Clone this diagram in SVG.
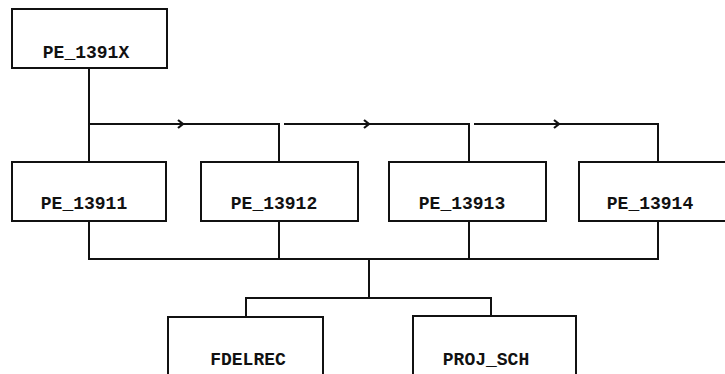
<svg xmlns="http://www.w3.org/2000/svg" width="725" height="374" viewBox="0 0 725 374">
<style>
.box{fill:#fff;stroke:#111;stroke-width:2}
.lbl{font-family:"Liberation Mono","DejaVu Sans Mono",monospace;font-weight:bold;font-size:18px;fill:#111;text-anchor:middle}
.ln{fill:none;stroke:#111;stroke-width:2}
.chev{fill:none;stroke:#111;stroke-width:2.2}
</style>
<rect width="725" height="374" fill="#fff"/>
<g id="connectors">
<path class="ln" d="M89,68 V162"/>
<path class="ln" d="M89,124 H279 V162"/>
<path class="ln" d="M284,124 H469 V162"/>
<path class="ln" d="M474,124 H658 V162"/>
<path class="chev" d="M178,120 L183,124 L178,128"/>
<path class="chev" d="M364,120 L369,124 L364,128"/>
<path class="chev" d="M554,120 L559,124 L554,128"/>
<path class="ln" d="M89,221 V259 H658 V221"/>
<path class="ln" d="M279,221 V259"/>
<path class="ln" d="M469,221 V259"/>
<path class="ln" d="M369,259 V298"/>
<path class="ln" d="M246,317 V298 H491 V316"/>
</g>
<g id="PE_1391X"><rect class="box" x="12" y="9" width="155" height="59"/><text class="lbl" x="86" y="58">PE_1391X</text></g>
<g id="PE_13911"><rect class="box" x="12" y="162" width="154" height="59"/><text class="lbl" x="84" y="209">PE_13911</text></g>
<g id="PE_13912"><rect class="box" x="201" y="162" width="157" height="59"/><text class="lbl" x="274" y="209">PE_13912</text></g>
<g id="PE_13913"><rect class="box" x="389" y="162" width="157" height="59"/><text class="lbl" x="462" y="209">PE_13913</text></g>
<g id="PE_13914"><rect class="box" x="579" y="162" width="160" height="59"/><text class="lbl" x="650" y="209">PE_13914</text></g>
<g id="FDELREC"><rect class="box" x="168" y="317" width="155" height="70"/><text class="lbl" x="248" y="365">FDELREC</text></g>
<g id="PROJ_SCH"><rect class="box" x="413" y="316" width="163" height="70"/><text class="lbl" x="486" y="365">PROJ_SCH</text></g>
</svg>
